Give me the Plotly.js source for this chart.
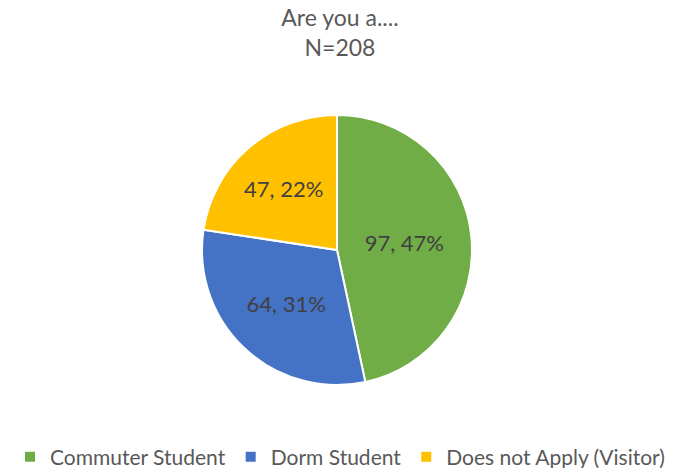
<!DOCTYPE html>
<html>
<head>
<meta charset="utf-8">
<script src="https://cdn.plot.ly/plotly-3.0.1.min.js"></script>
<style>html,body{margin:0;padding:0;background:#fff;}#chart{width:680px;height:468px;}</style>
</head>
<body>
<div id="chart"></div>
<script>
var categories = ["Commuter Student", "Dorm Student", "Does not Apply (Visitor)"];
var counts = [97, 64, 47];
var percentLabels = ["47%", "31%", "22%"];
var colors = ["#70AD47", "#4472C4", "#FFC000"];

var trace = {
  type: "pie",
  labels: categories,
  values: counts,
  text: percentLabels,
  texttemplate: "%{value}, %{text}",
  textposition: "inside",
  insidetextorientation: "horizontal",
  insidetextfont: {family: "Lato, 'Open Sans', sans-serif", size: 22, color: "#404040"},
  hoverinfo: "label+value",
  sort: false,
  direction: "clockwise",
  rotation: 0,
  domain: {x: [202 / 680, 472 / 680], y: [83 / 468, 353 / 468]},
  marker: {colors: colors, line: {color: "#ffffff", width: 2}}
};

var layout = {
  width: 680,
  height: 468,
  paper_bgcolor: "#ffffff",
  margin: {l: 0, r: 0, t: 0, b: 0, autoexpand: false},
  title: {
    text: "Are you a....<br>N=208",
    font: {family: "Lato, 'Open Sans', sans-serif", size: 23, color: "#595959"},
    x: 0.5,
    xanchor: "center",
    y: 0.945,
    yanchor: "top"
  },
  showlegend: true,
  legend: {
    orientation: "h",
    x: 0.5,
    xanchor: "center",
    y: 0.0235,
    yanchor: "middle",
    font: {family: "Lato, 'Open Sans', sans-serif", size: 21, color: "#595959"},
    itemwidth: 30,
    traceorder: "normal"
  }
};

Plotly.newPlot("chart", [trace], layout, {displayModeBar: false, staticPlot: true});
</script>
</body>
</html>
